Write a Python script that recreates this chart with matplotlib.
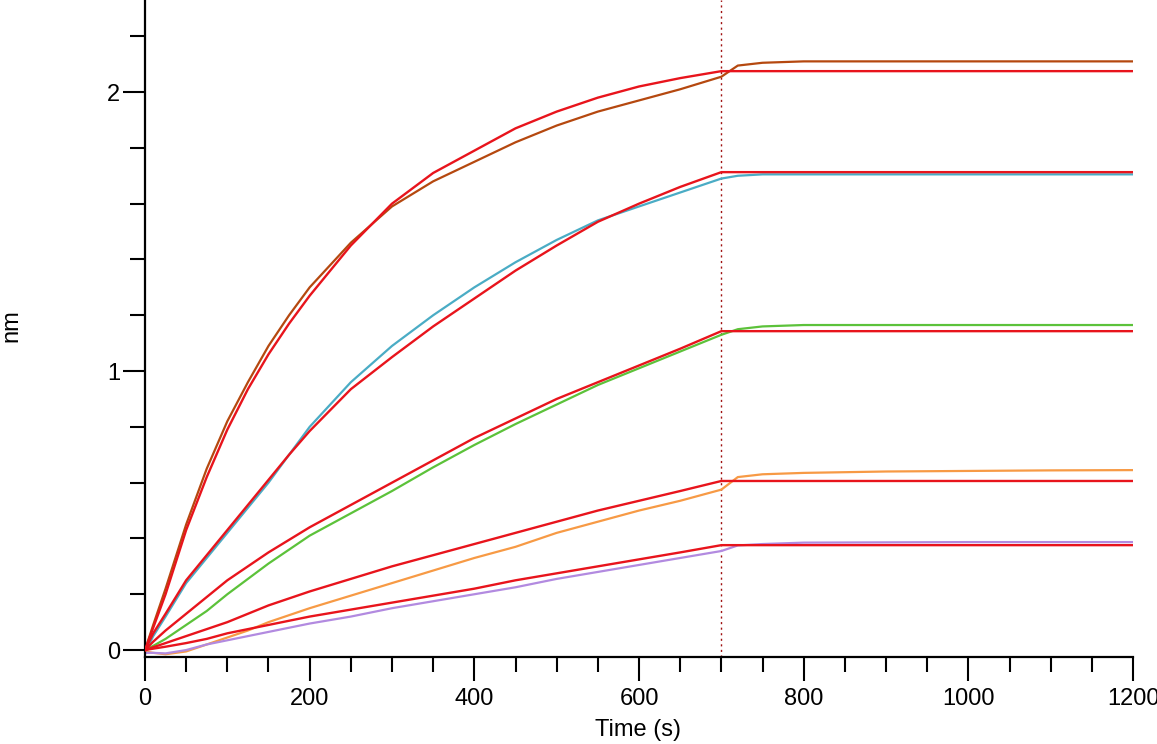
import matplotlib.pyplot as plt
from matplotlib.ticker import MultipleLocator

plt.rcParams['font.family'] = ['Liberation Sans', 'DejaVu Sans']

t_assoc = [0, 10, 25, 50, 75, 100, 125, 150, 175, 200, 250, 300, 350, 400, 450, 500, 550, 600, 650, 700]
t_dissoc = [720, 750, 800, 900, 1000, 1100, 1200]

# measured responses (nm)
brown = [0, 0.09, 0.22, 0.45, 0.65, 0.82, 0.96, 1.09, 1.20, 1.30, 1.46, 1.59, 1.68, 1.75, 1.82, 1.88, 1.93, 1.97, 2.01, 2.055,
         2.095, 2.105, 2.11, 2.11, 2.11, 2.11, 2.11]
cyan = [-0.01, 0.05, 0.12, 0.24, 0.33, 0.42, 0.51, 0.60, 0.70, 0.80, 0.96, 1.09, 1.20, 1.30, 1.39, 1.47, 1.54, 1.59, 1.64, 1.69,
        1.70, 1.705, 1.705, 1.705, 1.705, 1.705, 1.705]
green = [0, 0.015, 0.04, 0.09, 0.14, 0.20, 0.255, 0.31, 0.36, 0.41, 0.49, 0.57, 0.655, 0.735, 0.81, 0.88, 0.95, 1.01, 1.07, 1.13,
         1.15, 1.16, 1.165, 1.165, 1.165, 1.165, 1.165]
orange = [-0.005, -0.01, -0.015, -0.005, 0.02, 0.045, 0.07, 0.10, 0.125, 0.15, 0.195, 0.24, 0.285, 0.33, 0.37, 0.42, 0.46, 0.50, 0.535, 0.575,
          0.62, 0.63, 0.635, 0.64, 0.642, 0.644, 0.645]
purple = [-0.01, -0.01, -0.012, 0.0, 0.02, 0.035, 0.05, 0.065, 0.08, 0.095, 0.12, 0.15, 0.175, 0.20, 0.225, 0.255, 0.28, 0.305, 0.33, 0.355,
          0.375, 0.38, 0.385, 0.386, 0.387, 0.387, 0.387]

# fitted curves (nm)
fit1 = [0, 0.08, 0.20, 0.43, 0.62, 0.79, 0.935, 1.06, 1.17, 1.27, 1.45, 1.60, 1.71, 1.79, 1.87, 1.93, 1.98, 2.02, 2.05, 2.075]
fit2 = [0, 0.06, 0.13, 0.25, 0.34, 0.43, 0.52, 0.61, 0.70, 0.785, 0.935, 1.05, 1.16, 1.26, 1.36, 1.45, 1.535, 1.60, 1.66, 1.713]
fit3 = [0, 0.03, 0.07, 0.13, 0.19, 0.25, 0.30, 0.35, 0.395, 0.44, 0.52, 0.60, 0.68, 0.76, 0.83, 0.90, 0.96, 1.02, 1.08, 1.143]
fit4 = [0, 0.01, 0.025, 0.05, 0.075, 0.10, 0.13, 0.16, 0.185, 0.21, 0.255, 0.30, 0.34, 0.38, 0.42, 0.46, 0.50, 0.535, 0.57, 0.606]
fit5 = [0, 0.005, 0.012, 0.025, 0.04, 0.06, 0.075, 0.09, 0.105, 0.12, 0.145, 0.17, 0.195, 0.22, 0.25, 0.275, 0.30, 0.325, 0.35, 0.376]

t_all = t_assoc + t_dissoc
data = [(brown, '#b5480f'), (cyan, '#4aacc5'), (green, '#5cc23a'), (orange, '#f79a45'), (purple, '#b28ae0')]
fits = [fit1, fit2, fit3, fit4, fit5]

fig = plt.figure(figsize=(11.57, 7.44), dpi=100)
ax = fig.add_axes([0.1253, 0.1169, 0.854, 0.8831])

for vals, col in data:
    ax.plot(t_all, vals, color=col, lw=1.6, zorder=2)
for f in fits:
    ax.plot(t_assoc + [1200], f + [f[-1]], color='#e8141c', lw=1.7, zorder=3)

ax.axvline(700, color='#a01010', lw=1, ls=(0, (1.5, 2.5)), zorder=1)

ax.set_xlim(0, 1200)
ax.set_ylim(-0.025, 2.33)
ax.spines['top'].set_visible(False)
ax.spines['right'].set_visible(False)
for s in ['left', 'bottom']:
    ax.spines[s].set_linewidth(1.6)

ax.xaxis.set_major_locator(MultipleLocator(200))
ax.xaxis.set_minor_locator(MultipleLocator(50))
ax.yaxis.set_major_locator(MultipleLocator(1))
ax.yaxis.set_minor_locator(MultipleLocator(0.2))
ax.tick_params(which='major', length=17, width=1.5, labelsize=17, direction='out', pad=5)
ax.tick_params(which='minor', length=11, width=1.5, direction='out')
ax.tick_params(axis='y', which='major', length=16, pad=2)

ax.set_xlabel('Time (s)', fontsize=17)
ax.set_ylabel('nm', fontsize=17)
ax.xaxis.set_label_coords(0.499, -0.095)
ax.yaxis.set_label_coords(-0.1245, 0.505)

fig.savefig('out.png', dpi=100)
